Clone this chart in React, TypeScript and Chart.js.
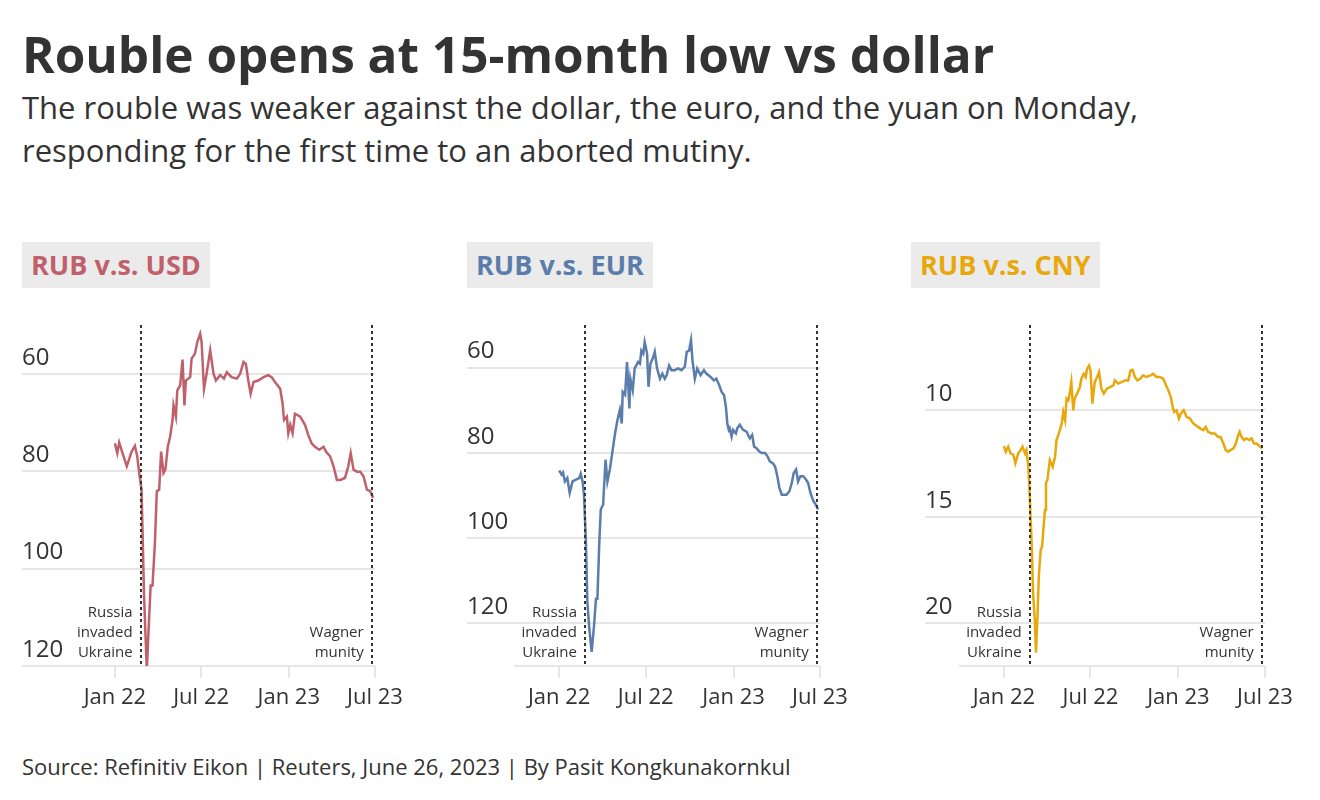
import React, { useEffect, useRef } from 'react';
import { Chart, registerables } from 'chart.js';

Chart.register(...registerables);

const FONT = '"Open Sans", Lato, sans-serif';
const TEXT = '#333333';
const GRID = '#e6e6e6';

// x values are days since 1 Jan 2022
const tickDays = [0, 181, 365, 546];
const tickLabels = ['Jan 22', 'Jul 22', 'Jan 23', 'Jul 23'];
const invasionDay = 54; // 24 Feb 2022
const wagnerDay = 539; // 24 Jun 2023
const invasionLabel = ['Russia', 'invaded', 'Ukraine'];
const wagnerLabel = ['Wagner', 'munity'];

const usdDays = [0,5,9,16,25,35,42,47,51,56,61,67,70,75,79,84,88,93,97,102,106,111,116,121,123,128,131,137,142,146,149,158,161,168,173,179,182,187,193,200,207,212,221,229,235,245,256,263,270,275,280,285,291,301,312,322,329,336,347,352,355,361,364,368,373,378,389,399,406,413,420,429,438,443,452,459,466,473,483,490,495,501,508,515,522,529,536,542];
const usdValues = [74.3,76.3,74.1,76.3,79,76,74.8,77,80.4,83.8,104.9,121,114.1,103.5,103.5,94.7,84.1,83.8,76,80.4,79.7,75,72.9,69.5,66.5,68.8,63.4,62.4,57.1,66.5,61.4,60.7,56.9,55.9,53.5,51.8,53.5,63.1,59.7,55.2,60,61.4,60.3,61,59.7,60.7,61,60,57.6,58,61.4,64.1,61.7,61.4,60.7,60.3,60.7,61.7,63.1,66.1,69.5,68.8,72.2,70.5,72.2,68.2,68.8,70.5,72.6,74.3,75,75.6,75,76,77,79,81.8,81.8,81.4,79,76.3,79.7,80.1,80.1,81.1,83.8,84.1,85.5];

const eurDays = [0,5,8,12,17,22,28,35,42,45,49,52,56,59,63,68,73,77,80,84,87,92,97,101,106,112,117,122,127,131,133,138,142,147,149,154,158,165,169,172,176,179,184,187,191,197,200,205,211,216,221,225,230,235,242,249,256,263,267,272,276,279,284,289,296,303,308,317,324,329,335,340,345,349,352,355,357,361,364,370,373,378,385,392,399,404,408,413,419,424,431,436,441,447,452,456,461,466,469,476,482,487,491,496,500,505,511,517,521,526,532,537,542];
const eurValues = [84.1,85.1,84.6,86.7,85.9,89.4,86.7,86.3,85.9,84.9,86.7,90.1,101,115,121.2,126.7,120.5,114.2,114.2,101,93.3,92.1,81.6,86.7,83.9,79.3,75.4,72.3,69.9,73.1,65.7,66.4,58.7,69.6,62.6,65.3,60.2,58.7,59.1,56,56.7,54,56.7,64.5,59.1,57.5,56.3,60.2,62.6,61.4,62.6,61.8,59.5,60.6,60.6,60.2,60.6,59.8,56.3,56,53.6,58.3,62.6,60.2,61.8,60.6,61.4,62.2,63,62.6,64.1,65.7,66.4,69.2,73.1,74.6,74.2,76.2,74.6,75.4,74.2,73.4,74.6,75,76.6,75.8,78.5,78.9,79.7,80,80,80.8,82,82.4,83.2,85.1,88.2,89.8,89.8,89.8,89,87,84.7,83.9,86.7,85.5,85.5,86.3,87,89.4,91.3,92.1,93.3];

const cnyDays = [0,4,9,14,20,24,30,35,39,44,47,51,54,58,61,65,67,70,73,77,80,83,86,88,91,96,102,107,110,115,121,124,128,131,135,138,141,145,148,153,159,162,167,171,174,178,181,185,190,195,199,204,209,215,222,229,232,239,246,253,260,265,269,274,279,285,291,298,307,312,319,326,333,339,344,349,353,356,361,366,370,376,382,389,396,401,406,411,417,422,427,434,441,448,453,459,464,469,474,480,485,490,493,497,502,507,513,518,523,528,534,540];
const cnyValues = [11.68,11.95,11.71,12.02,12.1,12.49,12.02,11.87,11.71,12.02,11.87,12.65,14.05,16.23,18.57,19.97,21.37,19.81,17.79,16.54,16.39,15.45,14.67,13.43,13.27,12.34,12.65,12.18,11.4,11.09,10.62,10.08,10.47,9.45,9.53,9.14,8.68,10,9.45,9.22,8.91,8.52,8.29,8.44,8.05,7.9,8.13,9.69,8.68,8.44,8.21,8.99,9.22,8.99,8.91,8.83,8.6,8.75,8.68,8.6,8.6,8.13,8.1,8.44,8.6,8.52,8.36,8.44,8.36,8.29,8.44,8.44,8.52,8.83,9.07,9.38,9.84,10.08,10,10.39,10.16,10,10.31,10.39,10.62,10.7,10.78,10.86,10.93,10.78,11.01,11.09,11.09,11.25,11.25,11.56,11.87,11.95,11.87,11.79,11.56,11.17,11.01,11.25,11.4,11.32,11.4,11.32,11.56,11.56,11.68,11.79];

const usdTicks = [60, 80, 100, 120];
const eurTicks = [60, 80, 100, 120];
const cnyTicks = [10, 15, 20];

type PanelSpec = {
  title: string;
  color: string;
  days: number[];
  values: number[];
  yMin: number;
  yMax: number;
  yTicks: number[];
  xMin: number;
  left: number;
  width: number;
  padLeft: number;
  padRight: number;
  titleLeft: number;
};

const panels: PanelSpec[] = [
  { title: 'RUB v.s. USD', color: '#c0606b', days: usdDays, values: usdValues, yMin: 50, yMax: 120, yTicks: usdTicks, xMin: -195, left: 0, width: 440, padLeft: 22, padRight: 65, titleLeft: 22 },
  { title: 'RUB v.s. EUR', color: '#5a7dab', days: eurDays, values: eurValues, yMin: 50, yMax: 130, yTicks: eurTicks, xMin: -193, left: 445, width: 440, padLeft: 22, padRight: 65, titleLeft: 467 },
  { title: 'RUB v.s. CNY', color: '#e8a80c', days: cnyDays, values: cnyValues, yMin: 6, yMax: 22, yTicks: cnyTicks, xMin: -165, left: 890, width: 430, padLeft: 35, padRight: 55, titleLeft: 911 },
];

const CANVAS_TOP = 300;
const CANVAS_H = 420;

const eventsPlugin = {
  id: 'events',
  beforeDatasetsDraw(chart: any) {
    const { ctx, chartArea, scales } = chart;
    ctx.save();
    ctx.strokeStyle = GRID;
    ctx.lineWidth = 2;
    const x0 = scales.x.getPixelForValue(-94);
    ctx.beginPath();
    ctx.moveTo(x0, chartArea.bottom);
    ctx.lineTo(chartArea.right, chartArea.bottom);
    ctx.stroke();
    ctx.restore();
  },
  afterDatasetsDraw(chart: any) {
    const { ctx, chartArea, scales } = chart;
    ctx.save();
    ctx.strokeStyle = '#333333';
    ctx.lineWidth = 2;
    ctx.setLineDash([3, 3]);
    for (const d of [invasionDay, wagnerDay]) {
      const x = Math.round(scales.x.getPixelForValue(d));
      ctx.beginPath();
      ctx.moveTo(x, chartArea.top);
      ctx.lineTo(x, chartArea.bottom);
      ctx.stroke();
    }
    ctx.setLineDash([]);
    ctx.fillStyle = TEXT;
    ctx.font = `15px ${FONT}`;
    ctx.textAlign = 'right';
    ctx.textBaseline = 'middle';
    const xi = scales.x.getPixelForValue(invasionDay) - 8;
    invasionLabel.forEach((t, i) => ctx.fillText(t, xi, chartArea.bottom - 53 + i * 20));
    const xw = scales.x.getPixelForValue(wagnerDay) - 8;
    wagnerLabel.forEach((t, i) => ctx.fillText(t, xw, chartArea.bottom - 33 + i * 20));
    ctx.restore();
  },
};

function Panel({ spec }: { spec: PanelSpec }) {
  const ref = useRef<HTMLCanvasElement | null>(null);
  useEffect(() => {
    if (!ref.current) return;
    const data = spec.days.map((d, i) => ({ x: d, y: spec.values[i] }));
    const chart = new Chart(ref.current, {
      type: 'line',
      data: {
        datasets: [
          {
            data,
            borderColor: spec.color,
            borderWidth: 2.5,
            pointRadius: 0,
            tension: 0,
            fill: false,
          },
        ],
      },
      options: {
        animation: false,
        responsive: false,
        events: [],
        layout: { padding: { left: spec.padLeft, right: spec.padRight, top: 25, bottom: 4 } },
        plugins: { legend: { display: false }, tooltip: { enabled: false }, title: { display: false } },
        scales: {
          x: {
            type: 'linear',
            min: spec.xMin,
            max: 546,
            afterBuildTicks: (scale: any) => {
              scale.ticks = tickDays.map((v) => ({ value: v }));
            },
            afterFit: (scale: any) => {
              scale.height = 50;
            },
            grid: { drawOnChartArea: false, drawTicks: true, tickLength: 12, color: GRID, lineWidth: 2 },
            border: { display: false },
            ticks: {
              autoSkip: false,
              maxRotation: 0,
              padding: 7,
              color: TEXT,
              font: { family: FONT, size: 22 },
              callback: (_v: any, i: number) => tickLabels[i],
            },
          },
          y: {
            type: 'linear',
            reverse: true,
            min: spec.yMin,
            max: spec.yMax,
            afterBuildTicks: (scale: any) => {
              scale.ticks = spec.yTicks.map((v) => ({ value: v }));
            },
            afterFit: (scale: any) => {
              scale.width = 0;
            },
            grid: { drawTicks: false, color: GRID, lineWidth: 2 },
            border: { display: false },
            ticks: {
              mirror: true,
              padding: 0,
              labelOffset: -16,
              color: TEXT,
              font: { family: FONT, size: 24 },
              callback: (v: any) => String(v),
            },
          },
        },
      },
      plugins: [eventsPlugin],
    } as any);
    return () => chart.destroy();
  }, [spec]);
  return (
    <canvas
      ref={ref}
      width={spec.width}
      height={CANVAS_H}
      style={{ position: 'absolute', left: spec.left, top: CANVAS_TOP, width: spec.width, height: CANVAS_H }}
    />
  );
}

export default function App() {
  return (
    <div
      style={{
        position: 'absolute',
        left: 0,
        top: 0,
        width: 1320,
        height: 800,
        background: '#ffffff',
        fontFamily: FONT,
        color: TEXT,
        overflow: 'hidden',
      }}
    >
      <div style={{ position: 'absolute', left: 22, top: 25, fontSize: 49.5, fontWeight: 700, lineHeight: '58px', whiteSpace: 'nowrap' }}>
        Rouble opens at 15-month low vs dollar
      </div>
      <div style={{ position: 'absolute', left: 22, top: 86, fontSize: 31, lineHeight: '43px', whiteSpace: 'nowrap' }}>
        The rouble was weaker against the dollar, the euro, and the yuan on Monday,
        <br />
        responding for the first time to an aborted mutiny.
      </div>
      {panels.map((p) => (
        <div
          key={p.title}
          style={{
            position: 'absolute',
            left: p.titleLeft,
            top: 242,
            height: 46,
            lineHeight: '46px',
            padding: '0 9px',
            background: '#ebebeb',
            color: p.color,
            fontWeight: 700,
            fontSize: 27,
            whiteSpace: 'nowrap',
          }}
        >
          {p.title}
        </div>
      ))}
      {panels.map((p) => (
        <Panel key={p.title + '-chart'} spec={p} />
      ))}
      <div style={{ position: 'absolute', left: 22, top: 751.5, fontSize: 22, lineHeight: '28px', whiteSpace: 'nowrap' }}>
        Source: Refinitiv Eikon | Reuters, June 26, 2023 | By Pasit Kongkunakornkul
      </div>
    </div>
  );
}
